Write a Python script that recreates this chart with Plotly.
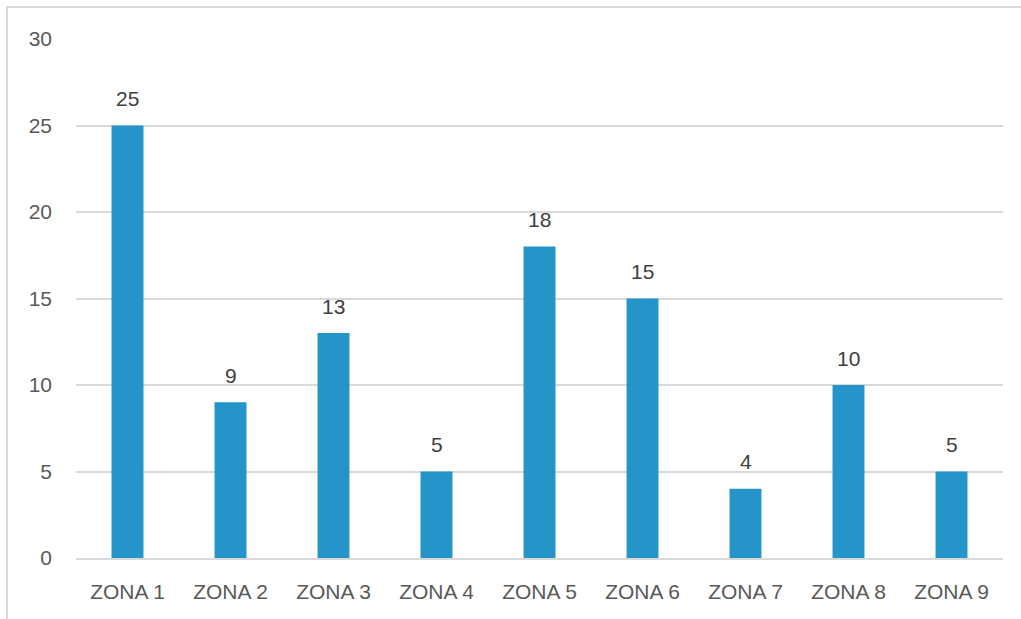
import plotly.graph_objects as go

categories = ["ZONA 1", "ZONA 2", "ZONA 3", "ZONA 4", "ZONA 5", "ZONA 6", "ZONA 7", "ZONA 8", "ZONA 9"]
values = [25, 9, 13, 5, 18, 15, 4, 10, 5]
y_ticks = [0, 5, 10, 15, 20, 25, 30]

W, H = 1021, 619
L, R, T, B = 76, 18, 39, 61
pw, ph = W - L - R, H - T - B

text_color = "#595959"
font_family = "Liberation Sans, Arial, sans-serif"

fig = go.Figure(go.Bar(
    x=categories, y=values,
    marker=dict(color="#2494C9", line=dict(width=0)),
    width=0.31,
    hoverinfo="x+y",
))

for c, v in zip(categories, values):
    fig.add_annotation(x=c, y=v, text=str(v), showarrow=False, yshift=27,
                       font=dict(size=21, color="#404040", family=font_family))

def px(x):
    return (x - L) / pw

def py(y):
    return (H - B - y) / ph

fig.add_shape(type="rect", xref="paper", yref="paper",
              x0=px(7), x1=px(1040), y0=py(7), y1=py(640),
              line=dict(color="#D9D9D9", width=2), fillcolor="rgba(0,0,0,0)", layer="below")

fig.update_layout(
    width=W, height=H,
    margin=dict(l=L, r=R, t=T, b=B, pad=0),
    paper_bgcolor="white", plot_bgcolor="white",
    showlegend=False,
    font=dict(family=font_family, color=text_color, size=21),
    xaxis=dict(showgrid=False, showline=True, linecolor="#D9D9D9", linewidth=2,
               ticks="", tickfont=dict(size=21, color=text_color), ticklabelstandoff=14),
    yaxis=dict(range=[0, 30], tickvals=y_ticks, showgrid=True, gridcolor="#D9D9D9", gridwidth=2,
               zeroline=False, showline=False, ticks="",
               tickfont=dict(size=21, color=text_color), ticklabelstandoff=23),
)

fig.write_html("out.html", config={"displayModeBar": False},
               post_script="document.body.style.margin='0px';document.body.style.overflow='hidden';")
